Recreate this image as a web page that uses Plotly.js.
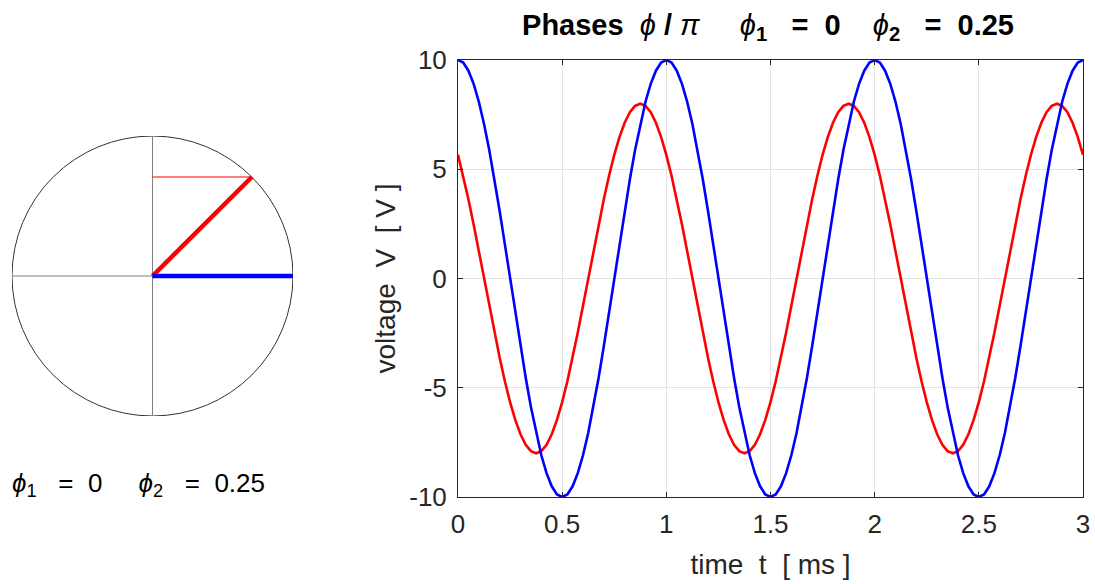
<!DOCTYPE html>
<html><head><meta charset="utf-8">
<script src="https://cdn.plot.ly/plotly-3.0.1.min.js"></script>
<style>html,body{margin:0;padding:0;background:#fff}#plot{width:1095px;height:584px}</style>
</head><body><div id="plot"></div>
<script>
// phases in units of pi
var phi1 = 0;
var phi2 = 0.25;
// time [ms]
var timeMs = [0,0.025,0.05,0.075,0.1,0.125,0.15,0.175,0.2,0.225,0.25,0.275,0.3,0.325,0.35,0.375,0.4,0.425,0.45,0.475,
  0.5,0.525,0.55,0.575,0.6,0.625,0.65,0.675,0.7,0.725,0.75,0.775,0.8,0.825,0.85,0.875,0.9,0.925,0.95,0.975,
  1,1.025,1.05,1.075,1.1,1.125,1.15,1.175,1.2,1.225,1.25,1.275,1.3,1.325,1.35,1.375,1.4,1.425,1.45,1.475,
  1.5,1.525,1.55,1.575,1.6,1.625,1.65,1.675,1.7,1.725,1.75,1.775,1.8,1.825,1.85,1.875,1.9,1.925,1.95,1.975,
  2,2.025,2.05,2.075,2.1,2.125,2.15,2.175,2.2,2.225,2.25,2.275,2.3,2.325,2.35,2.375,2.4,2.425,2.45,2.475,
  2.5,2.525,2.55,2.575,2.6,2.625,2.65,2.675,2.7,2.725,2.75,2.775,2.8,2.825,2.85,2.875,2.9,2.925,2.95,2.975,3];
// voltage 1 (blue) [V]
var v1 = [10,9.88,9.51,8.91,8.09,7.07,5.88,4.54,3.09,1.56,0,-1.56,-3.09,-4.54,-5.88,-7.07,-8.09,-8.91,-9.51,-9.88,
  -10,-9.88,-9.51,-8.91,-8.09,-7.07,-5.88,-4.54,-3.09,-1.56,0,1.56,3.09,4.54,5.88,7.07,8.09,8.91,9.51,9.88,
  10,9.88,9.51,8.91,8.09,7.07,5.88,4.54,3.09,1.56,0,-1.56,-3.09,-4.54,-5.88,-7.07,-8.09,-8.91,-9.51,-9.88,
  -10,-9.88,-9.51,-8.91,-8.09,-7.07,-5.88,-4.54,-3.09,-1.56,0,1.56,3.09,4.54,5.88,7.07,8.09,8.91,9.51,9.88,
  10,9.88,9.51,8.91,8.09,7.07,5.88,4.54,3.09,1.56,0,-1.56,-3.09,-4.54,-5.88,-7.07,-8.09,-8.91,-9.51,-9.88,
  -10,-9.88,-9.51,-8.91,-8.09,-7.07,-5.88,-4.54,-3.09,-1.56,0,1.56,3.09,4.54,5.88,7.07,8.09,8.91,9.51,9.88,10];
// voltage 2 (red) [V]
var v2 = [5.66,4.70,3.63,2.47,1.25,0,-1.25,-2.47,-3.63,-4.70,-5.66,-6.47,-7.13,-7.61,-7.90,-8,-7.90,-7.61,-7.13,-6.47,
  -5.66,-4.70,-3.63,-2.47,-1.25,0,1.25,2.47,3.63,4.70,5.66,6.47,7.13,7.61,7.90,8,7.90,7.61,7.13,6.47,
  5.66,4.70,3.63,2.47,1.25,0,-1.25,-2.47,-3.63,-4.70,-5.66,-6.47,-7.13,-7.61,-7.90,-8,-7.90,-7.61,-7.13,-6.47,
  -5.66,-4.70,-3.63,-2.47,-1.25,0,1.25,2.47,3.63,4.70,5.66,6.47,7.13,7.61,7.90,8,7.90,7.61,7.13,6.47,
  5.66,4.70,3.63,2.47,1.25,0,-1.25,-2.47,-3.63,-4.70,-5.66,-6.47,-7.13,-7.61,-7.90,-8,-7.90,-7.61,-7.13,-6.47,
  -5.66,-4.70,-3.63,-2.47,-1.25,0,1.25,2.47,3.63,4.70,5.66,6.47,7.13,7.61,7.90,8,7.90,7.61,7.13,6.47,5.66];
var xTicks = [0,0.5,1,1.5,2,2.5,3];
var xTickText = ['0','0.5','1','1.5','2','2.5','3'];
var yTicks = [-10,-5,0,5,10];
var yTickText = ['-10','-5','0','5','10'];

var c1 = Math.cos(phi1*Math.PI), s1 = Math.sin(phi1*Math.PI);
var c2 = Math.cos(phi2*Math.PI), s2 = Math.sin(phi2*Math.PI);
var S = '\u00A0';
function sp(n){ var r=''; for(var i=0;i<n;i++) r+=S; return r; }
var txtCol = '#262626';
var font = 'Liberation Sans, Arial, sans-serif';
var phiSym = '<i>ϕ</i>';

var traces = [
  {x: timeMs, y: v2, type:'scatter', mode:'lines', line:{color:'#ff0000', width:2.6}, xaxis:'x', yaxis:'y', hoverinfo:'skip'},
  {x: timeMs, y: v1, type:'scatter', mode:'lines', line:{color:'#0000ff', width:2.6}, xaxis:'x', yaxis:'y', hoverinfo:'skip'},
  // phasor diagram
  {x:[-1,1], y:[0,0], type:'scatter', mode:'lines', line:{color:'#808080', width:1}, xaxis:'x2', yaxis:'y2', hoverinfo:'skip'},
  {x:[0,0], y:[-1,1], type:'scatter', mode:'lines', line:{color:'#808080', width:1}, xaxis:'x2', yaxis:'y2', hoverinfo:'skip'},
  {x:[0,c2], y:[s2,s2], type:'scatter', mode:'lines', line:{color:'#ff0000', width:1.2}, xaxis:'x2', yaxis:'y2', hoverinfo:'skip'},
  {x:[0,c2], y:[0,s2], type:'scatter', mode:'lines', line:{color:'#ff0000', width:4.5}, xaxis:'x2', yaxis:'y2', hoverinfo:'skip'},
  {x:[0,c1], y:[0,s1], type:'scatter', mode:'lines', line:{color:'#0000ff', width:4.5}, xaxis:'x2', yaxis:'y2', hoverinfo:'skip'}
];

var titleText = '<b>Phases</b>'+sp(2)+phiSym+S+'<b>/</b>'+S+'<i>π</i>'+sp(5)+phiSym+'<sub><b>1</b></sub>'+sp(3)+'<b>=</b>'+sp(2)+'<b>0</b>'+sp(4)+phiSym+'<sub><b>2</b></sub>'+sp(3)+'<b>=</b>'+sp(2)+'<b>0.25</b>';
var leftText = phiSym+'<sub>1</sub>'+sp(3)+'='+sp(2)+'0'+sp(5)+phiSym+'<sub>2</sub>'+sp(3)+'='+sp(2)+'0.25';

var layout = {
  width:1095, height:584,
  margin:{l:0,r:0,t:0,b:0},
  paper_bgcolor:'#ffffff', plot_bgcolor:'#ffffff',
  showlegend:false,
  font:{family:font, color:txtCol, size:26},
  title:{text:titleText, x:768/1095, xanchor:'center', y:(584-25)/584, yanchor:'middle', font:{family:font, size:29, color:'#000000'}},
  xaxis:{domain:[458/1095, 1083/1095], range:[0,3], tickvals:xTicks, ticktext:xTickText,
    showgrid:true, gridcolor:'#e3e3e3', gridwidth:1, zeroline:false,
    showline:true, linecolor:txtCol, linewidth:1, mirror:'ticks', ticks:'inside', ticklen:5, tickcolor:txtCol,
    tickfont:{family:font, size:26, color:txtCol}, ticklabelstandoff:4,
    title:{text:'time'+sp(2)+'t'+sp(2)+'['+S+'ms'+S+']', font:{family:font, size:28, color:txtCol}, standoff:16}, anchor:'y'},
  yaxis:{domain:[(584-497)/584, (584-60)/584], range:[-10,10], tickvals:yTicks, ticktext:yTickText,
    showgrid:true, gridcolor:'#e3e3e3', gridwidth:1, zeroline:false,
    showline:true, linecolor:txtCol, linewidth:1, mirror:'ticks', ticks:'inside', ticklen:5, tickcolor:txtCol,
    tickfont:{family:font, size:26, color:txtCol}, ticklabelstandoff:5,
    title:{text:'voltage'+sp(2)+'V'+sp(2)+'['+S+'V'+S+']', font:{family:font, size:28, color:txtCol}, standoff:5}, anchor:'x'},
  xaxis2:{domain:[12/1095, 293/1095], range:[-1,1], visible:false, fixedrange:true, anchor:'y2'},
  yaxis2:{domain:[(584-416)/584, (584-136)/584], range:[-1,1], visible:false, fixedrange:true, anchor:'x2'},
  shapes:[{type:'circle', xref:'x2', yref:'y2', x0:-1, x1:1, y0:-1, y1:1, line:{color:'#333333', width:1}, layer:'below'}],
  annotations:[{xref:'paper', yref:'paper', x:10/1095, y:(584-485)/584, xanchor:'left', yanchor:'middle', showarrow:false,
    text:leftText, font:{family:font, size:26, color:'#000000'}}]
};

Plotly.newPlot('plot', traces, layout, {staticPlot:true, displayModeBar:false});
</script></body></html>
